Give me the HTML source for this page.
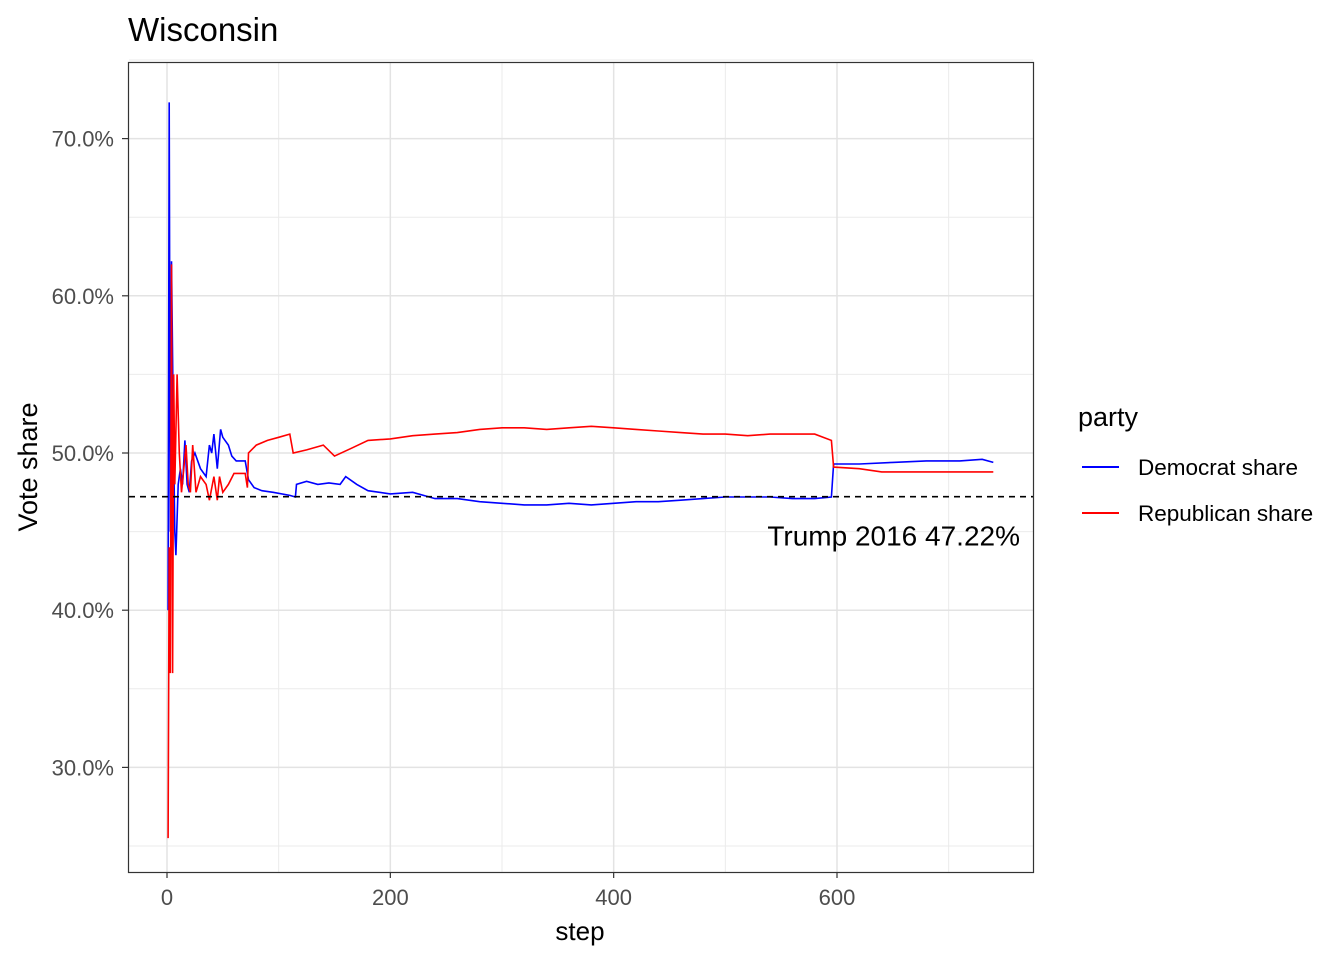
<!DOCTYPE html>
<html><head><meta charset="utf-8"><style>
body{margin:0;background:#fff;}
svg text{font-family:"Liberation Sans",Arial,sans-serif;}
</style></head><body>
<svg id="chart" width="1344" height="960">
<rect width="1344" height="960" fill="#fff"/>
<text x="128" y="41" font-size="33" fill="#000">Wisconsin</text>
<g id="grid"></g>
<g id="series"></g>
<rect x="128.5" y="62.5" width="905" height="810" fill="none" stroke="#333" stroke-width="1.2"/>
<g id="axes"></g>
<text x="580" y="940" font-size="26" text-anchor="middle">step</text>
<text transform="translate(37,467) rotate(-90)" font-size="27" text-anchor="middle">Vote share</text>
<g>
<text x="1078" y="426" font-size="27">party</text>
<line x1="1082" y1="467" x2="1119" y2="467" stroke="#0000ff" stroke-width="2"/>
<text x="1138" y="475" font-size="22.5">Democrat share</text>
<line x1="1082" y1="513" x2="1119" y2="513" stroke="#ff0000" stroke-width="2"/>
<text x="1138" y="521" font-size="22.5">Republican share</text>
</g>
</svg>
<script>
const xTicks=[0,200,400,600];
const yTicks=[30,40,50,60,70];
const demSteps=[1,2,3,4,5,6,7,8,10,12,14,16,18,20,22,25,30,35,38,40,42,45,48,50,55,58,62,70,73,78,85,95,110,115,116,125,135,145,155,160,170,180,200,220,240,260,280,300,320,340,360,380,400,420,440,460,480,500,520,540,560,580,595,597,620,650,680,710,730,740];
const demShare=[40,72.3,45,62.2,56,50,45,43.5,48,49,48,50.8,48,47.5,49.5,50,49,48.5,50.5,50,51.2,49,51.5,51,50.5,49.8,49.5,49.5,48.3,47.8,47.6,47.5,47.3,47.2,48,48.2,48,48.1,48,48.5,48,47.6,47.4,47.5,47.1,47.1,46.9,46.8,46.7,46.7,46.8,46.7,46.8,46.9,46.9,47.0,47.1,47.2,47.2,47.2,47.1,47.1,47.2,49.3,49.3,49.4,49.5,49.5,49.6,49.4];
const repSteps=[1,2,3,4,5,6,7,9,11,13,15,17,19,21,23,26,30,35,38,42,45,47,50,55,60,70,72,73,80,90,100,110,113,125,140,150,165,180,200,220,240,260,280,300,320,340,360,380,400,420,440,460,480,500,520,540,560,580,595,597,620,640,700,740];
const repShare=[25.5,44,36,62,36,55,48,55,50,47.5,49,50.5,48,47.5,50.5,47.5,48.5,48,47,48.5,47,48.5,47.5,48,48.7,48.7,47.8,50,50.5,50.8,51,51.2,50,50.2,50.5,49.8,50.3,50.8,50.9,51.1,51.2,51.3,51.5,51.6,51.6,51.5,51.6,51.7,51.6,51.5,51.4,51.3,51.2,51.2,51.1,51.2,51.2,51.2,50.8,49.1,49.0,48.8,48.8,48.8];
const trumpLine=47.22;
const NS="http://www.w3.org/2000/svg";
const X=v=>167+v*(837-167)/600;
const Y=v=>453-(v-50)*15.72;
function mk(tag,attrs,parent){const e=document.createElementNS(NS,tag);for(const k in attrs)e.setAttribute(k,attrs[k]);parent.appendChild(e);return e;}
const grid=document.getElementById('grid'),axes=document.getElementById('axes'),ser=document.getElementById('series');
for(let v=100;v<=700;v+=200){const l=mk('line',{x1:X(v),x2:X(v),y1:63,y2:872,stroke:'#ebebeb','stroke-width':1},grid);}
for(let v=25;v<=75;v+=10){const l=mk('line',{x1:129,x2:1033,y1:Y(v),y2:Y(v),stroke:'#ebebeb','stroke-width':1},grid);}
xTicks.forEach(v=>{const l=mk('line',{x1:X(v),x2:X(v),y1:63,y2:872,stroke:'#e3e3e3','stroke-width':1.5},grid);
const t=mk('line',{x1:X(v),x2:X(v),y1:872,y2:878,stroke:'#333','stroke-width':1.2},axes);
const s=mk('text',{x:X(v),y:905,'font-size':22,'text-anchor':'middle',fill:'#4d4d4d'},axes);s.textContent=v;});
yTicks.forEach(v=>{const l=mk('line',{x1:129,x2:1033,y1:Y(v),y2:Y(v),stroke:'#e3e3e3','stroke-width':1.5},grid);
const t=mk('line',{x1:122,x2:128,y1:Y(v),y2:Y(v),stroke:'#333','stroke-width':1.2},axes);
const s=mk('text',{x:114,y:Y(v)+8,'font-size':22,'text-anchor':'end',fill:'#4d4d4d'},axes);s.textContent=v.toFixed(1)+'%';});
function path(xs,ys,c,name){const d=xs.map((s,i)=>(i?'L':'M')+X(s).toFixed(1)+','+Y(ys[i]).toFixed(1)).join('');const p=mk('path',{d:d,fill:'none',stroke:c,'stroke-width':1.6},ser);}
path(demSteps,demShare,'#0000ff','democrat-line');
path(repSteps,repShare,'#ff0000','republican-line');
const h=mk('line',{x1:129,x2:1033,y1:Y(trumpLine),y2:Y(trumpLine),stroke:'#000','stroke-width':1.6,'stroke-dasharray':'6,5'},ser);


const a=mk('text',{x:1020,y:Y(trumpLine)+49,'font-size':28,'text-anchor':'end'},ser);a.textContent='Trump 2016 '+trumpLine.toFixed(2)+'%';


</script>
</body></html>
